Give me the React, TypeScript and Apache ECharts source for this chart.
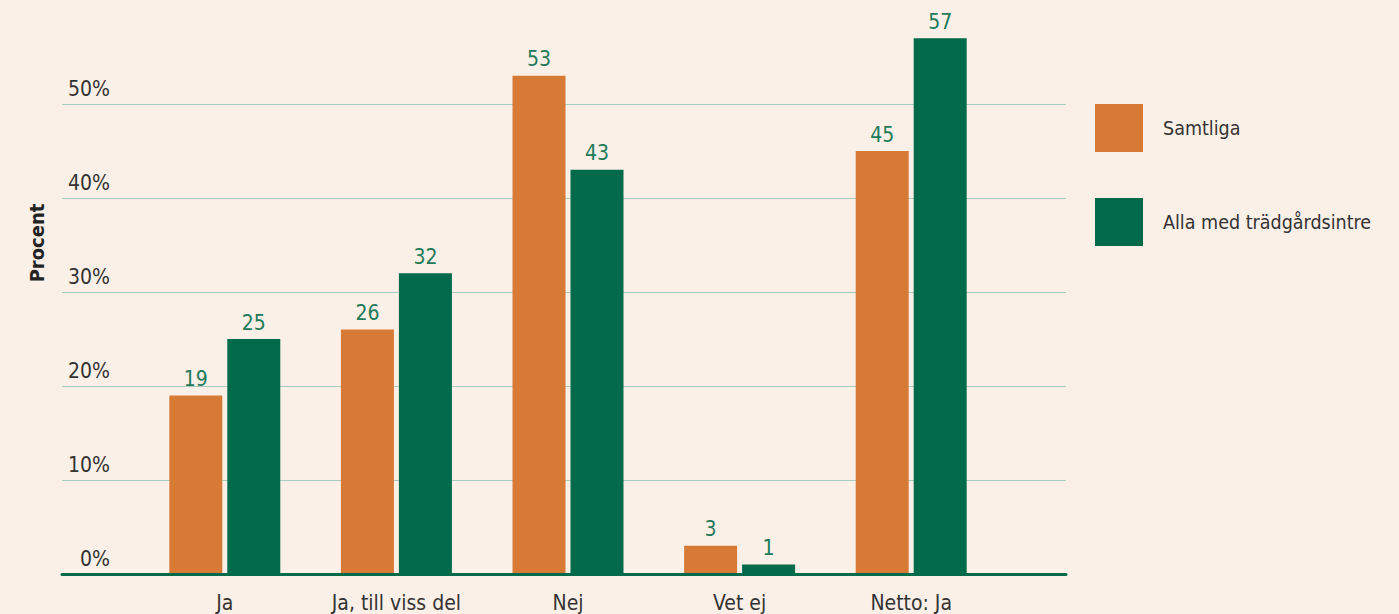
import React, { useEffect, useRef } from "react";
import * as echarts from "echarts";

const categories = ["Ja", "Ja, till viss del", "Nej", "Vet ej", "Netto: Ja"];
const seriesNames = ["Samtliga", "Alla med trädgårdsintresse"];
const samtliga = [19, 26, 53, 3, 45];
const tradgard = [25, 32, 43, 1, 57];
const yTicks = [0, 10, 20, 30, 40, 50];

const FONT = "'DejaVu Sans Condensed', 'Liberation Sans', sans-serif";
const BG = "#fbf0e7";
const ORANGE = "#d67a36";
const GREEN = "#006a4a";

export default function App() {
  const ref = useRef<HTMLDivElement>(null);
  useEffect(() => {
    document.body.style.margin = "0";
    const chart = echarts.init(ref.current!, null, { renderer: "svg" });
    chart.setOption({
      animation: false,
      backgroundColor: BG,
      textStyle: { fontFamily: FONT },
      grid: [
        { left: 62, right: 333, top: 104, bottom: 40 },
        { left: 139, right: 402, top: 104, bottom: 40 },
      ],
      xAxis: [
        {
          type: "value",
          gridIndex: 0,
          min: 0,
          max: 1,
          z: 10,
          axisLine: { show: true, lineStyle: { color: GREEN, width: 3 } },
          axisTick: { show: false },
          axisLabel: { show: false },
          splitLine: { show: false },
        },
        {
          type: "category",
          gridIndex: 1,
          data: categories,
          axisLine: { show: false },
          axisTick: { show: false },
          axisLabel: { fontFamily: FONT, fontSize: 21, color: "#333333", margin: 18 },
        },
      ],
      yAxis: [
        {
          type: "value",
          gridIndex: 0,
          min: yTicks[0],
          max: yTicks[yTicks.length - 1],
          interval: 10,
          axisLine: { show: false },
          axisTick: { show: false },
          splitLine: { show: true, lineStyle: { color: "#abcbc0", width: 1 } },
          axisLabel: {
            inside: true,
            margin: 48,
            align: "right",
            verticalAlign: "bottom",
            padding: [0, 0, 5, 0],
            fontFamily: FONT,
            fontSize: 21,
            color: "#333333",
            formatter: (v: number) => v + "%",
          },
        },
        {
          type: "value",
          gridIndex: 1,
          min: yTicks[0],
          max: yTicks[yTicks.length - 1],
          show: false,
        },
      ],
      legend: {
        orient: "vertical",
        left: 1095,
        top: 104,
        padding: 0,
        itemWidth: 48,
        itemHeight: 48,
        itemGap: 46,
        icon: "rect",
        textStyle: {
          fontFamily: FONT,
          fontSize: 19.5,
          color: "#333333",
          padding: [0, 0, 0, 15],
          width: 224,
          overflow: "truncate",
          ellipsis: "",
        },
        data: seriesNames,
      },
      graphic: [
        {
          type: "text",
          x: 37,
          y: 243,
          rotation: Math.PI / 2,
          style: {
            text: "Procent",
            fontFamily: FONT,
            fontWeight: "bold",
            fontSize: 20,
            fill: "#222222",
            align: "center",
            verticalAlign: "middle",
          },
        },
      ],
      series: [
        {
          name: seriesNames[0],
          type: "bar",
          xAxisIndex: 1,
          yAxisIndex: 1,
          data: samtliga,
          barWidth: 53,
          barGap: "9.4%",
          clip: false,
          itemStyle: { color: ORANGE },
          label: { show: true, position: "top", distance: 6, fontFamily: FONT, fontSize: 21, color: "#217a58" },
        },
        {
          name: seriesNames[1],
          type: "bar",
          xAxisIndex: 1,
          yAxisIndex: 1,
          data: tradgard,
          barWidth: 53,
          barGap: "9.4%",
          clip: false,
          itemStyle: { color: GREEN },
          label: { show: true, position: "top", distance: 6, fontFamily: FONT, fontSize: 21, color: "#217a58" },
        },
      ],
    });
    return () => chart.dispose();
  }, []);
  return (
    <div style={{ position: "absolute", left: 0, top: 0, width: 1399, height: 614, background: BG }}>
      <div ref={ref} style={{ width: 1399, height: 614 }} />
    </div>
  );
}
